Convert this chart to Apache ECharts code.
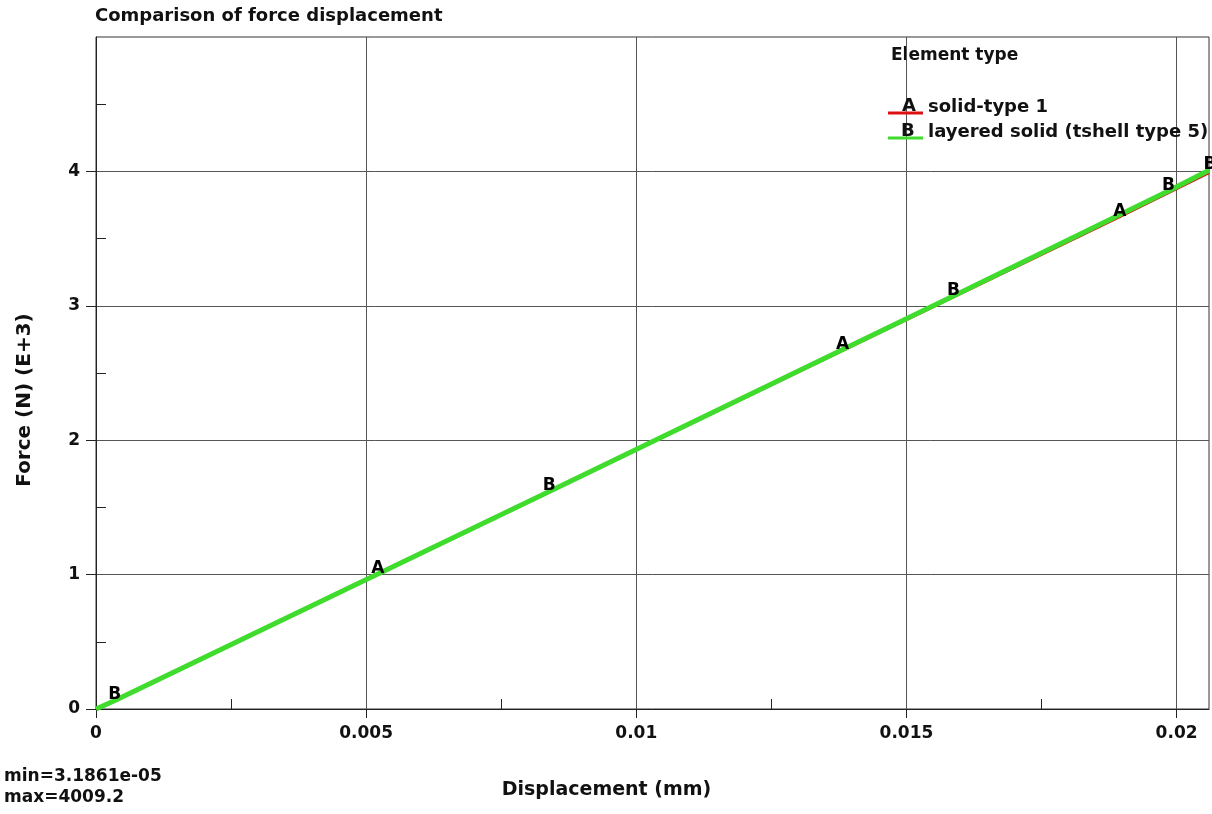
<!DOCTYPE html>
<html>
<head>
<meta charset="utf-8">
<title>Comparison of force displacement</title>
<script src="https://cdn.jsdelivr.net/npm/echarts@6/dist/echarts.min.js"></script>
<style>
  html, body { margin: 0; padding: 0; background: #ffffff; }
  #chart { width: 1212px; height: 814px; }
</style>
</head>
<body>
<div id="chart"></div>
<script>
// Displacement (mm) and force (N, in thousands) for each element type
const dispA  = [0, 0.0052, 0.0138, 0.01893, 0.0206];
const forceA = [0, 1.000, 2.665, 3.660, 3.990];
const labelA = ['', 'A', 'A', 'A', ''];

const dispB  = [0, 0.00033, 0.00837, 0.01585, 0.01983, 0.0206];
const forceB = [0, 0.060, 1.615, 3.070, 3.850, 4.0092];
const labelB = ['', 'B', 'B', 'B', 'B', 'B'];

const seriesNames = ['solid-type 1', 'layered solid (tshell type 5)'];
const seriesKeys = ['A', 'B'];
const seriesColors = ['#dd1111', '#3fdc2e'];

const xTicks = { min: 0, max: 0.0206, interval: 0.005, values: [0, 0.005, 0.01, 0.015, 0.02] };
const yTicks = { min: 0, max: 5, interval: 1, values: [0, 1, 2, 3, 4] };

const FONT = '"DejaVu Sans", "Liberation Sans", sans-serif';
const bold = size => ({ fontFamily: FONT, fontWeight: 'bold', fontSize: size, color: '#111' });
const gfont = size => 'bold ' + size + 'px ' + FONT;

const points = (xs, ys) => xs.map((x, i) => [x, ys[i]]);

// letter markers sit on the curves, above both lines
function markerSeries(xs, ys, labels) {
  return {
    type: 'scatter',
    symbolSize: 0,
    silent: true,
    z: 10,
    itemStyle: { opacity: 1 },
    data: xs.map((x, i) => ({
      value: [x, ys[i]],
      label: {
        show: labels[i] !== '',
        formatter: labels[i],
        position: 'inside',
        offset: [1, -6],
        opacity: 1,
        textBorderWidth: 0,
        ...bold(17),
        color: '#000'
      }
    }))
  };
}

const chart = echarts.init(document.getElementById('chart'));

chart.setOption({
  animation: false,
  backgroundColor: '#ffffff',
  title: {
    text: 'Comparison of force displacement',
    left: 95,
    top: 7,
    padding: 0,
    textStyle: bold(18)
  },
  legend: {
    orient: 'vertical',
    left: 888,
    top: 97,
    padding: 0,
    itemWidth: 35,
    itemHeight: 20,
    itemGap: 5,
    // line sample sits along the bottom of the item box
    icon: 'path://M0,0 M0,14.5 L35,14.5 L35,17.5 L0,17.5 M0,20 Z',
    data: seriesNames,
    textStyle: bold(18)
  },
  grid: {
    left: 96,
    right: 3,
    top: 37,
    bottom: 105,
    show: true,
    borderColor: '#333',
    borderWidth: 1
  },
  xAxis: {
    type: 'value',
    min: xTicks.min,
    max: xTicks.max,
    interval: xTicks.interval,
    name: 'Displacement (mm)',
    nameLocation: 'middle',
    nameGap: 72,
    nameTextStyle: { ...bold(19), padding: [0, 92, 0, 0] },
    axisLine: { lineStyle: { color: '#222', width: 1 } },
    axisTick: { show: true, inside: false, length: 9, customValues: xTicks.values, lineStyle: { color: '#222' } },
    minorTick: { show: true, splitNumber: 2, length: -10, lineStyle: { color: '#222' } },
    splitLine: { show: true, lineStyle: { color: '#555', width: 1 } },
    axisLabel: {
      ...bold(17),
      margin: 16,
      customValues: xTicks.values,
      formatter: v => (v === 0 ? '0' : String(+v.toFixed(4)))
    }
  },
  yAxis: {
    type: 'value',
    min: yTicks.min,
    max: yTicks.max,
    interval: yTicks.interval,
    name: 'Force (N) (E+3)',
    nameLocation: 'middle',
    nameGap: 61,
    nameTextStyle: { ...bold(20), padding: [0, 54, 0, 0] },
    axisLine: { lineStyle: { color: '#222', width: 1 } },
    axisTick: { show: true, inside: false, length: 10, customValues: yTicks.values, lineStyle: { color: '#222' } },
    minorTick: { show: true, splitNumber: 2, length: -10, lineStyle: { color: '#222' } },
    splitLine: { show: true, lineStyle: { color: '#555', width: 1 } },
    axisLabel: {
      ...bold(17),
      margin: 16,
      customValues: yTicks.values
    }
  },
  series: [
    {
      name: seriesNames[0],
      type: 'line',
      data: points(dispA, forceA),
      showSymbol: false,
      symbol: 'none',
      color: seriesColors[0],
      lineStyle: { color: seriesColors[0], width: 3 },
      z: 2
    },
    {
      name: seriesNames[1],
      type: 'line',
      data: points(dispB, forceB),
      showSymbol: false,
      symbol: 'none',
      color: seriesColors[1],
      lineStyle: { color: seriesColors[1], width: 5 },
      z: 3
    },
    markerSeries(dispA, forceA, labelA),
    markerSeries(dispB, forceB, labelB)
  ],
  graphic: [
    { type: 'text', left: 891, top: 47, style: { text: 'Element type', font: gfont(17), fill: '#111' } },
    { type: 'text', left: 902, top: 97, z: 200, style: { text: seriesKeys[0], font: gfont(18), fill: '#111' } },
    { type: 'text', left: 901, top: 122, z: 200, style: { text: seriesKeys[1], font: gfont(18), fill: '#111' } },
    { type: 'text', left: 4, top: 768, style: { text: 'min=3.1861e-05', font: gfont(17), fill: '#111' } },
    { type: 'text', left: 4, top: 789, style: { text: 'max=4009.2', font: gfont(17), fill: '#111' } }
  ]
});
</script>
</body>
</html>
